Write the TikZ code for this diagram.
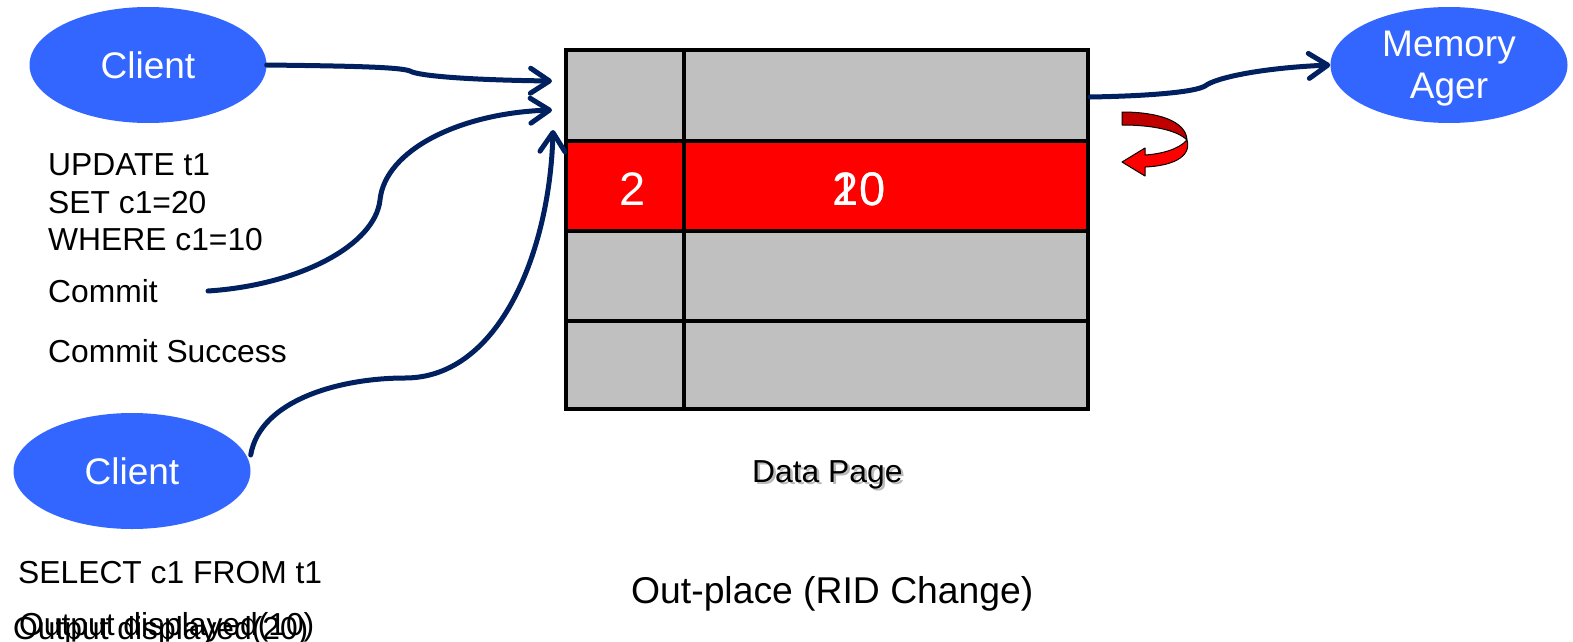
\documentclass[tikz,border=0pt]{standalone}
\usepackage{fontspec}
\setmainfont{Liberation Sans}
\usetikzlibrary{shapes.geometric,arrows.meta}
\definecolor{navy}{HTML}{002060}
\definecolor{actorblue}{HTML}{3366FF}
\definecolor{cellgray}{HTML}{C0C0C0}
\definecolor{backred}{HTML}{C00000}

\begin{document}
\begin{tikzpicture}[x=1pt,y=-1pt,
  actor/.style={ellipse, fill=actorblue, minimum width=237pt, minimum height=116pt,
                inner sep=0pt, text=white, font=\fontsize{37}{42}\selectfont, align=center},
  note/.style={anchor=base west, inner sep=0pt, font=\fontsize{31.8}{37}\selectfont},
  flow/.style={draw=navy, line width=5pt, line cap=round,
               -{Straight Barb[length=19pt,width=25pt,round]}},
  rule/.style={line width=4pt},
  cellnum/.style={anchor=base, inner sep=0pt, text=white, font=\fontsize{47}{50}\selectfont}]
\useasboundingbox (0,0) rectangle (1573,642);

% ---- data page ----
\node[fill=cellgray, minimum width=522pt, minimum height=359pt, inner sep=0pt] (page) at (827,229.5) {};
\fill[red] (566,141) rectangle (1088,231);
\draw[rule] (566,141) -- (1088,141) (566,231) -- (1088,231) (566,321) -- (1088,321)
            (684,50) -- (684,409);
\draw[rule] (page.north west) rectangle (page.south east);
\node[cellnum] (rid) at (633,205) {2};
\node[cellnum] (newval) at (859,205) {20};
\node[cellnum] (oldval) at (859,205) {10};

% ---- actors ----
\node[actor] (client1) at (148,65) {Client};
\node[actor] (client2) at (132,471) {Client};
\node[actor, text depth=-6pt] (ager) at (1449,65) {Memory\\Ager};

% ---- statements ----
\node[note] (upd1) at (48,175) {UPDATE t1};
\node[note] (upd2) at (48,213) {SET c1=20};
\node[note] (upd3) at (48,250) {WHERE c1=10};
\node[note] (commit) at (48,302) {Commit};
\node[note] (success) at (48,362) {Commit Success};
\node[note] (select) at (18,583) {SELECT c1 FROM t1};
\node[note] (outnew) at (13,639) {Output displayed(20)};
\node[note] (outold) at (19,635) {Output displayed(10)};

% ---- captions ----
\node[note, text=black!45, opacity=0.6] (pageshadow) at (754.5,484.5) {Data Page};
\node[note] (pagecap) at (752,482) {Data Page};
\node[note, font=\fontsize{37.3}{42}\selectfont] (title) at (631,603) {Out-place (RID Change)};

% ---- connector end points ----
\coordinate (in1) at (552,81);
\coordinate (in2) at (552,110);
\coordinate (in3) at (553,130);
\coordinate (commitout) at (208,291);
\coordinate (pageout) at (1090,97);

% ---- connectors ----
\draw[flow] (client1.east) .. controls (350,66) and (400,67) .. (410,71)
            .. controls (418,76) and (470,80) .. (in1);
\draw[flow] (commitout) .. controls (300,285) and (375,245) .. (380,200)
            .. controls (385,150) and (460,113) .. (in2);
\draw[flow] ([yshift=16pt]client2.east) .. controls (260,400) and (340,378) .. (405,378)
            .. controls (500,378) and (550,250) .. (in3);
\draw[flow] (pageout) .. controls (1150,96) and (1195,92) .. (1205,86)
            .. controls (1215,78) and (1260,68) .. (ager.west);

% ---- turn-around arrow beside the page ----
\filldraw[fill=backred, draw=black, line width=1pt, line join=round]
  (1122,112) .. controls (1158,112) and (1186,121) .. (1187,140)
  .. controls (1178,131) and (1155,125) .. (1122,125) -- cycle;
\filldraw[fill=red, draw=black, line width=1pt, line join=round]
  (1187,140) .. controls (1178,150) and (1160,154) .. (1145,155)
  -- (1145,148) -- (1122,162) -- (1145,176) -- (1145,167)
  .. controls (1170,166) and (1192,158) .. (1187,140) -- cycle;
\end{tikzpicture}
\end{document}
